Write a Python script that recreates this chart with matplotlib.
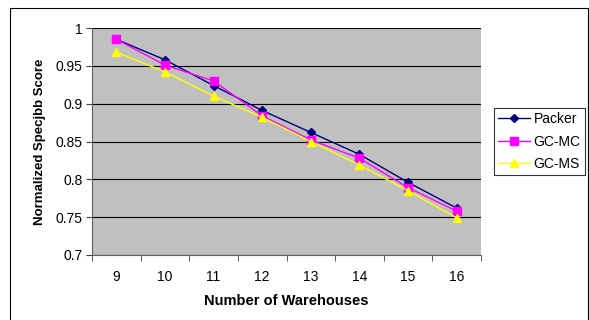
import matplotlib
matplotlib.use("Agg")
import matplotlib.pyplot as plt
from matplotlib.patches import Rectangle
from matplotlib.ticker import FixedLocator, NullFormatter

warehouses = ["9", "10", "11", "12", "13", "14", "15", "16"]
packer = [0.985, 0.958, 0.924, 0.891, 0.862, 0.833, 0.796, 0.762]
gc_mc = [0.985, 0.951, 0.930, 0.884, 0.852, 0.828, 0.789, 0.758]
gc_ms = [0.968, 0.942, 0.910, 0.882, 0.850, 0.819, 0.785, 0.749]

plt.rcParams['font.family'] = ['Liberation Sans', 'DejaVu Sans']

W, H = 589, 320
fig = plt.figure(figsize=(W/100, H/100), dpi=100)
fig.patch.set_facecolor('white')
fig.patches.append(Rectangle((10/W, -0.05), 578/W, 1 - 8/H + 0.05, transform=fig.transFigure,
                             fill=False, edgecolor='black', linewidth=0.8))

ax = fig.add_axes([92/W, 1 - 255/H, 389/W, 227/H])
ax.set_facecolor('#C0C0C0')
x = list(range(len(warehouses)))
ax.plot(x, packer, color='#000080', marker='D', markersize=4.5, linewidth=1, label='Packer')
ax.plot(x, gc_mc, color='#FF00FF', marker='s', markersize=5.5, linewidth=1, label='GC-MC')
ax.plot(x, gc_ms, color='#FFFF00', marker='^', markersize=6, linewidth=1, label='GC-MS')

ax.set_xlim(-0.5, len(warehouses) - 0.5)
ax.set_ylim(0.7, 1.0)
ax.set_yticks([0.7, 0.75, 0.8, 0.85, 0.9, 0.95, 1.0])
ax.set_yticklabels(['0.7', '0.75', '0.8', '0.85', '0.9', '0.95', '1'])
ax.yaxis.grid(True, color='black', linewidth=0.8)
ax.set_axisbelow(True)

ax.set_xticks(x)
ax.set_xticklabels(warehouses)
ax.tick_params(axis='x', which='major', length=0, pad=11)
ax.xaxis.set_minor_locator(FixedLocator([i - 0.5 for i in range(len(warehouses) + 1)]))
ax.xaxis.set_minor_formatter(NullFormatter())
ax.tick_params(axis='x', which='minor', length=4, direction='out', color='#404040')
ax.tick_params(axis='y', length=4, direction='out', color='#404040', pad=3)
ax.tick_params(labelsize=10)

for s in ['top', 'right']:
    ax.spines[s].set_visible(False)
for s in ['left', 'bottom']:
    ax.spines[s].set_color('#606060')

ax.set_xlabel('Number of Warehouses', fontsize=10.5, fontweight='bold', labelpad=7)
ax.set_ylabel('Normalized Specjbb Score', fontsize=9.5, fontweight='bold', labelpad=7)

leg = ax.legend(loc='upper left', bbox_to_anchor=(494/W, 1 - 108/H), bbox_transform=fig.transFigure,
                frameon=True, fancybox=False, edgecolor='black', fontsize=10,
                handlelength=2.3, borderpad=0.3, labelspacing=0.6, handletextpad=0.25,
                borderaxespad=0)
leg.get_frame().set_linewidth(0.8)

fig.savefig('out.png', dpi=100)
